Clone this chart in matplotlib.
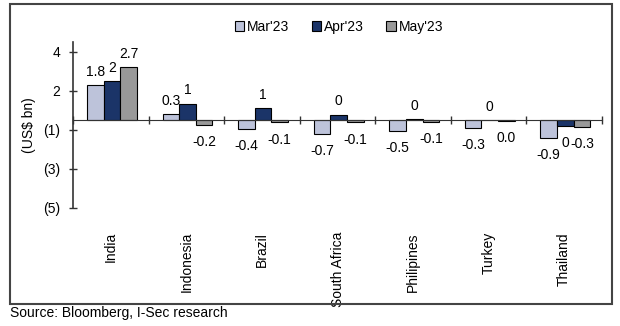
import numpy as np
import matplotlib.pyplot as plt
from matplotlib.patches import Rectangle

plt.rcParams['font.family'] = ['Liberation Sans', 'DejaVu Sans']

countries = ['India', 'Indonesia', 'Brazil', 'South Africa', 'Philipines', 'Turkey', 'Thailand']
series = ["Mar'23", "Apr'23", "May'23"]

mar = [1.8, 0.3, -0.45, -0.7, -0.55, -0.4, -0.9]
apr = [2.0, 0.85, 0.6, 0.28, 0.05, 0.02, -0.3]
may = [2.7, -0.25, -0.12, -0.12, -0.08, -0.02, -0.35]

mar_lbl = ['1.8', '0.3', '-0.4', '-0.7', '-0.5', '-0.3', '-0.9']
apr_lbl = ['2', '1', '1', '0', '0', '0', '0']
may_lbl = ['2.7', '-0.2', '-0.1', '-0.1', '-0.1', '0.0', '-0.3']

yticks = [3.5, 1.5, -0.5, -2.5, -4.5]
ytick_lbl = ['4', '2', '(1)', '(3)', '(5)']

colors = ['#BDC3DA', '#1B3468', '#999999']

fig = plt.figure(figsize=(6.2, 3.26), dpi=100)
ax = fig.add_axes([73/620, 1 - 208/326, 529/620, 166/326])

x = np.arange(len(countries))
w = 0.22
for i, (vals, lbls) in enumerate(zip([mar, apr, may], [mar_lbl, apr_lbl, may_lbl])):
    xs = x + (i - 1) * w + 0.015
    ax.bar(xs, vals, w, color=colors[i], edgecolor='black', linewidth=0.8,
           label=series[i], zorder=2)
    for xi, v, t in zip(xs, vals, lbls):
        off = 9.5 if v >= 0 else -12.5
        ax.annotate(t, (xi, v), xytext=(0, off), textcoords='offset points',
                    ha='center', va='center', fontsize=10)

ax.set_xlim(-0.5, len(countries) - 0.5)
ax.set_ylim(-4.5, 4)
ax.set_yticks(yticks)
ax.set_yticklabels(ytick_lbl, fontsize=10)
ax.set_ylabel('(US$ bn)', fontsize=10, labelpad=5)

ax.spines['top'].set_visible(False)
ax.spines['right'].set_visible(False)
ax.spines['bottom'].set_position(('data', 0))
ax.spines['left'].set_color('#333333')
ax.spines['bottom'].set_color('#333333')
ax.spines['left'].set_linewidth(1.2)
ax.set_xticks(np.arange(len(countries) + 1) - 0.5)
ax.set_xticklabels([])
ax.tick_params(axis='both', direction='inout', length=6, width=1.0, color='#333333')
ax.tick_params(axis='y', pad=6)

for xi, c in zip(x, countries):
    ax.text(xi, -0.145, c, transform=ax.get_xaxis_transform(), rotation=90,
            ha='center', va='top', fontsize=10)

fig.legend(loc='center', bbox_to_anchor=(339/620, 1 - 27/326), ncol=3, frameon=False,
           fontsize=10, handlelength=0.7, handleheight=0.7, handletextpad=0.2,
           columnspacing=1.6)

fig.patches.append(Rectangle((10/620, 1 - 304/326), 602/620, 300/326,
                             transform=fig.transFigure, fill=False,
                             edgecolor='#444444', linewidth=1.5))
fig.text(10/620, 1 - 313/326, 'Source: Bloomberg, I-Sec research', fontsize=10,
         ha='left', va='center')

fig.savefig('out.png', dpi=100)
